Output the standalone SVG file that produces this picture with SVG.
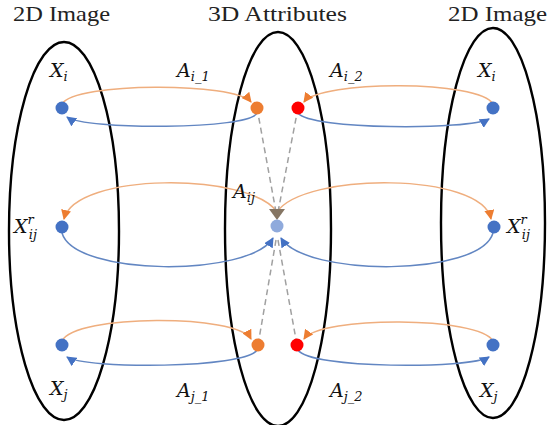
<svg xmlns="http://www.w3.org/2000/svg" width="550" height="425" viewBox="0 0 550 425">
<style>
.title{font-family:"Liberation Serif","Times New Roman",serif;font-size:21px;fill:#222}
.m{font-family:"DejaVu Serif","Liberation Serif",serif;font-style:italic;font-size:19px;fill:#111}
.s{font-size:13px}
.ell{fill:none;stroke:#000;stroke-width:2.4}
.oa{fill:none;stroke:#EFAE7E;stroke-width:1.5}
.ba{fill:none;stroke:#6286C2;stroke-width:1.5}
.da{fill:none;stroke:#A0A0A0;stroke-width:1.5;stroke-dasharray:6 4}
.blue{fill:#4472C4}
.orange{fill:#ED7D31}
.red{fill:#FF0000}
.lb{fill:#8FAADC}
</style>
<defs>
<marker id="mo" viewBox="0 0 10 10" refX="9" refY="5" markerWidth="10" markerHeight="10" markerUnits="userSpaceOnUse" orient="auto"><path d="M0,0 L10,5 L0,10 z" fill="#ED7D31"/></marker>
<marker id="mb" viewBox="0 0 10 10" refX="9" refY="5" markerWidth="10" markerHeight="10" markerUnits="userSpaceOnUse" orient="auto"><path d="M0,0 L10,5 L0,10 z" fill="#4472C4"/></marker>
</defs>
<rect width="550" height="425" fill="#fff"/>
<g id="titles">
<text class="title" x="13" y="21" textLength="97" lengthAdjust="spacingAndGlyphs">2D Image</text>
<text class="title" x="208" y="21" textLength="139" lengthAdjust="spacingAndGlyphs">3D Attributes</text>
<text class="title" x="448" y="21" textLength="99" lengthAdjust="spacingAndGlyphs">2D Image</text>
</g>
<g id="ellipses">
<ellipse id="ell-left" class="ell" cx="64" cy="231" rx="55" ry="189"/>
<ellipse id="ell-mid" class="ell" cx="278" cy="229" rx="53" ry="197"/>
<ellipse id="ell-right" class="ell" cx="493" cy="223" rx="52" ry="195"/>
</g>
<g id="connectors">
<path class="oa" d="M62,104 C75,82 235,82 251,102" marker-end="url(#mo)"/>
<path class="ba" d="M257,113 C250,130 85,130 67,117" marker-end="url(#mb)"/>
<path class="oa" d="M493,104 C480,80 320,80 304,102" marker-end="url(#mo)"/>
<path class="ba" d="M298,113 C310,130 470,130 489,119" marker-end="url(#mb)"/>
<path class="oa" d="M277,212 C250,172 75,172 64,219" marker-end="url(#mo)"/>
<path class="oa" d="M277,212 C304,172 482,172 491,219" marker-end="url(#mo)"/>
<path class="ba" d="M62,233 C75,277 250,277 273,238" marker-end="url(#mb)"/>
<path class="ba" d="M493,233 C480,277 305,277 281,238" marker-end="url(#mb)"/>
<path class="oa" d="M62,341 C75,314 238,314 251,339" marker-end="url(#mo)"/>
<path class="ba" d="M257,350 C245,369 85,369 67,357" marker-end="url(#mb)"/>
<path class="oa" d="M493,341 C480,316 320,316 304,339" marker-end="url(#mo)"/>
<path class="ba" d="M298,350 C310,369 470,369 489,357" marker-end="url(#mb)"/>
<path class="da" d="M257,108 L276,212"/>
<path class="da" d="M298,108 L278,212"/>
<path class="da" d="M276,240 L258,345"/>
<path class="da" d="M278,240 L297,345"/>
<polygon points="269,209 285,209 277,220" fill="#857563"/>
</g>
<g id="n-xi-left"><circle class="blue" cx="62" cy="108" r="6.5"/></g>
<g id="n-ai1"><circle class="orange" cx="257" cy="108" r="6.5"/></g>
<g id="n-ai2"><circle class="red" cx="298" cy="108" r="6.5"/></g>
<g id="n-xi-right"><circle class="blue" cx="493" cy="108" r="6.5"/></g>
<g id="n-xr-left"><circle class="blue" cx="62" cy="227" r="6.5"/></g>
<g id="n-aij"><circle class="lb" cx="277" cy="226" r="6.5"/></g>
<g id="n-xr-right"><circle class="blue" cx="494" cy="227" r="6.5"/></g>
<g id="n-xj-left"><circle class="blue" cx="62" cy="345" r="6.5"/></g>
<g id="n-aj1"><circle class="orange" cx="258" cy="345" r="6.5"/></g>
<g id="n-aj2"><circle class="red" cx="297" cy="345" r="6.5"/></g>
<g id="n-xj-right"><circle class="blue" cx="493" cy="345" r="6.5"/></g>
<g id="labels">
<text class="m" x="50" y="77">X<tspan class="s" dy="4">i</tspan></text>
<text class="m" x="177" y="77">A<tspan class="s" dy="4">i_1</tspan></text>
<text class="m" x="330" y="77">A<tspan class="s" dy="4">i_2</tspan></text>
<text class="m" x="478" y="77">X<tspan class="s" dy="4">i</tspan></text>
<text class="m" x="14" y="233">X<tspan class="s" dy="-9">r</tspan><tspan class="s" dx="-5" dy="15">ij</tspan></text>
<text class="m" x="233" y="198">A<tspan class="s" dy="4">ij</tspan></text>
<text class="m" x="507" y="233">X<tspan class="s" dy="-9">r</tspan><tspan class="s" dx="-5" dy="15">ij</tspan></text>
<text class="m" x="50" y="395">X<tspan class="s" dy="4">j</tspan></text>
<text class="m" x="177" y="397">A<tspan class="s" dy="4">j_1</tspan></text>
<text class="m" x="330" y="397">A<tspan class="s" dy="4">j_2</tspan></text>
<text class="m" x="480" y="397">X<tspan class="s" dy="4">j</tspan></text>
</g>
</svg>
